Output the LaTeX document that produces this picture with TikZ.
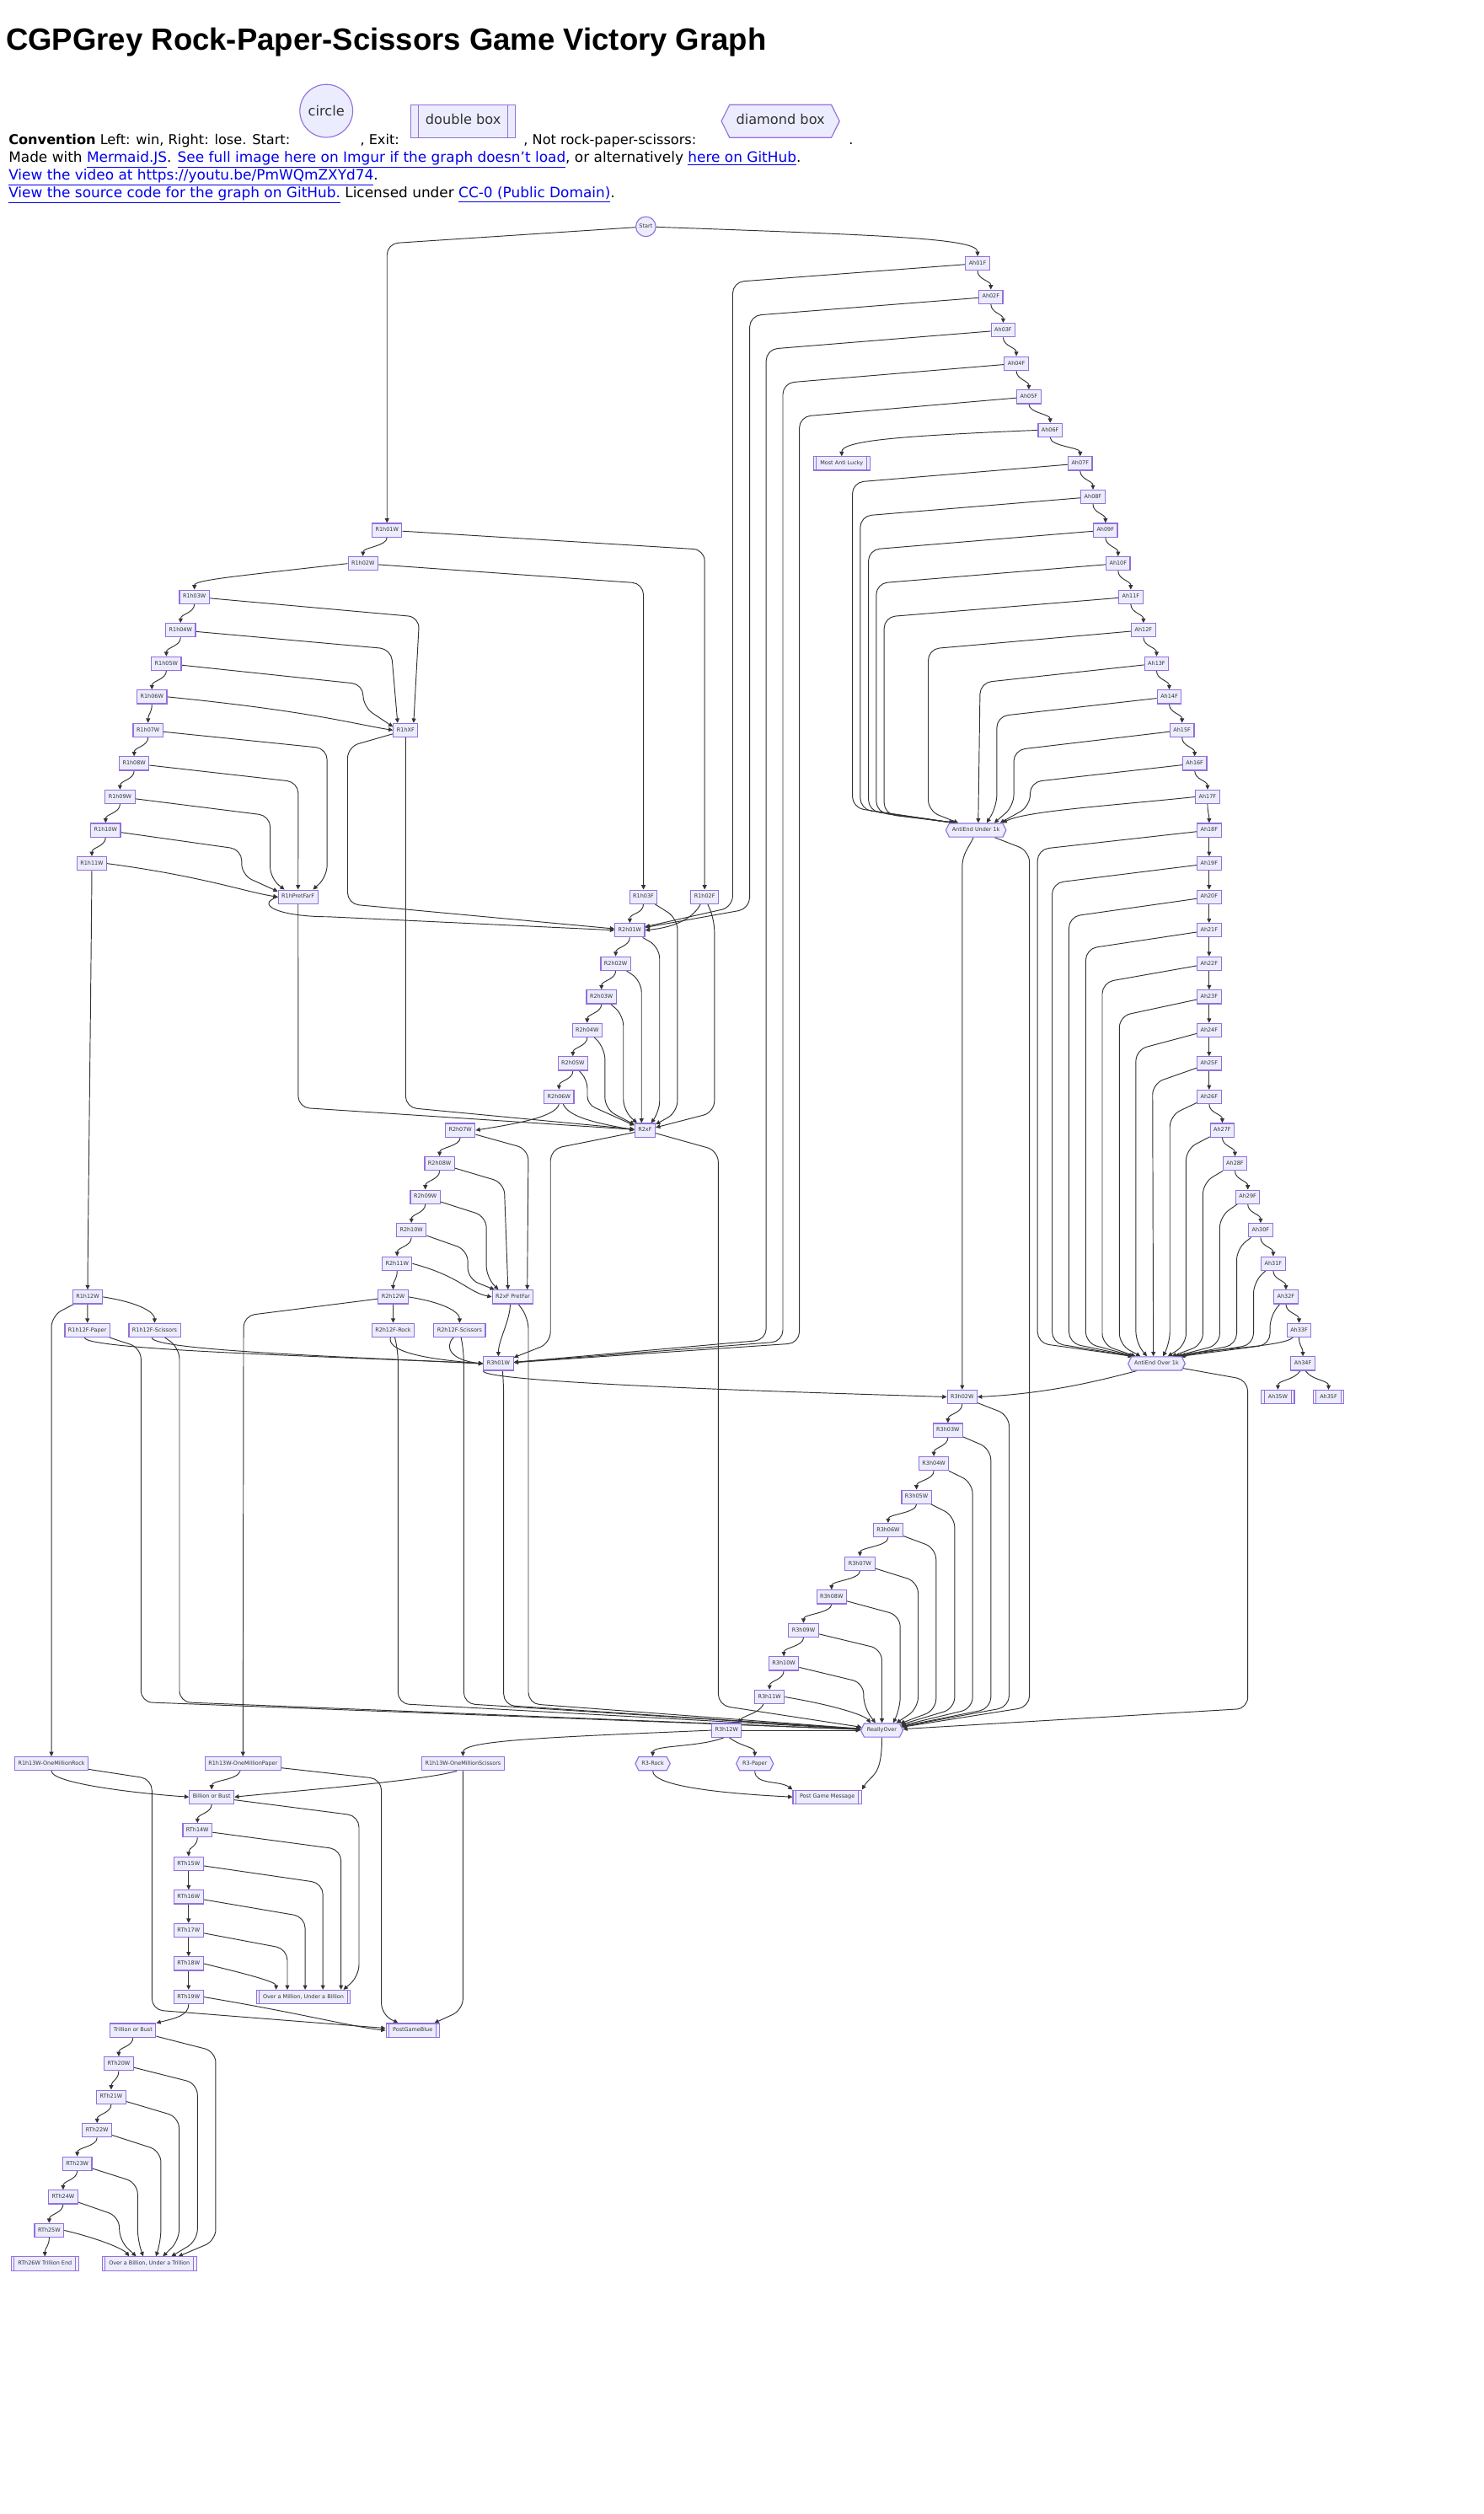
\documentclass[tikz,border=0pt]{standalone}
\usepackage{fontspec}
\setmainfont{DejaVu Sans}
\newfontfamily\titlefont{Liberation Sans}
\usetikzlibrary{arrows.meta,shapes.symbols,calc}
\definecolor{mfill}{HTML}{ECECFF}
\definecolor{mline}{HTML}{9370DB}
\definecolor{ecol}{HTML}{333333}
\definecolor{lnk}{HTML}{0000EE}
\pgfdeclarelayer{bglayer}
\pgfdeclarelayer{edgelayer}
\pgfsetlayers{bglayer,edgelayer,main}
\newcommand\nf{\fontsize{3.4}{4}\selectfont}
\newcommand\pf{\fontsize{8.5}{10}\selectfont}
\newcommand\pfb{\fontsize{8.9}{10}\selectfont}
\newcommand\lk[1]{\textcolor{lnk}{\underline{#1}}}
\newcommand\chn[2]{\draw[arr] (#1.south) .. controls +(0,5.5) and +(0,-5.5) .. (#2.north);}
\tikzset{
 nd/.style={rectangle, draw=mline, fill=mfill, line width=0.6pt, font=\nf, text=ecol, inner xsep=2.1pt, inner ysep=2.575pt, text height=2.6pt, text depth=0.75pt, minimum height=8.5pt},
 dlines/.style={path picture={\draw[mline, line width=0.5pt] ([xshift=#1]path picture bounding box.north west) -- ([xshift=#1]path picture bounding box.south west) ([xshift=-#1]path picture bounding box.north east) -- ([xshift=-#1]path picture bounding box.south east);}},
 dbx/.style={nd, inner xsep=4.2pt, dlines=1.8pt},
 hx/.style={nd, shape=signal, signal to=west and east, signal pointer angle=127, inner xsep=1.8pt},
 arr/.style={draw=ecol, line width=0.5pt, -{Triangle[length=2.8pt,width=2.6pt]}},
 lanearr/.style={arr, rounded corners=7pt},
 pg/.style={anchor=base west, inner sep=0pt, font=\pf, text=black},
 pgb/.style={pg, font=\pfb},
}
\begin{document}
\begin{tikzpicture}[x=1pt,y=-1pt]
\begin{pgfonlayer}{bglayer}
\fill[white] (0,0) rectangle (926,1568.6);
\end{pgfonlayer}
\useasboundingbox (0,0) rectangle (926,1568.6);
% ---------------- header
\node[anchor=base west, inner sep=0pt, font=\titlefont\bfseries\fontsize{19.2}{22}\selectfont] (title) at (3.6,31.5) {CGPGrey Rock-Paper-Scissors Game Victory Graph};
\node[pg] (t1a) at (5.2,90.3) {\textbf{Convention} Left: win, Right: lose. Start:};
\node[pg] (t1b) at (224.6,90.3) {, Exit:};
\node[pg] (t1c) at (326.6,90.3) {, Not rock-paper-scissors:};
\node[pg] (t1d) at (529.5,90.3) {.};
\node[pgb] (t2) at (5.2,101.3) {Made with \lk{Mermaid.JS}. \lk{See full image here on Imgur if the graph doesn't load}, or alternatively \lk{here on GitHub}.};
\node[pgb] (t3) at (5.2,112.3) {\lk{View the video at https://youtu.be/PmWQmZXYd74}.};
\node[pgb] (t4) at (5.2,123.2) {\lk{View the source code for the graph on GitHub.} Licensed under \lk{CC-0 (Public Domain)}.};
\node[nd, circle, font=\pf, minimum size=33pt, inner sep=0pt, text height=6.2pt, text depth=0pt] (lgc) at (203.6,69.2) {circle};
\node[nd, font=\pf, minimum width=65.3pt, minimum height=20.5pt, inner xsep=0pt, inner ysep=0pt, text height=6.2pt, text depth=1.8pt, dlines=4.6pt] (lgd) at (289,75.6) {double box};
\node[hx, font=\pf, minimum height=20.5pt, inner xsep=4.1pt, inner ysep=5.9pt, text height=6.2pt, text depth=1.8pt] (lgh) at (487,75.6) {diamond box};
% ---------------- nodes: anti chain
\node[nd,circle,minimum size=12.4pt,inner sep=0pt] (S) at (403,141.4) {Start};
\node[nd] (A01) at (610,164.4) {Ah01F};
\node[nd] (A02) at (618.3,185.2) {Ah02F};
\node[nd] (A03) at (626,206.0) {Ah03F};
\node[nd] (A04) at (634.2,226.8) {Ah04F};
\node[nd] (A05) at (642,247.6) {Ah05F};
\node[nd] (A06) at (655.3,268.4) {Ah06F};
\node[dbx] (MAL) at (525.2,289.2) {Most Anti Lucky};
\node[nd] (A07) at (674,289.2) {Ah07F};
\node[nd] (A08) at (682,310.0) {Ah08F};
\node[nd] (A09) at (689.8,330.8) {Ah09F};
\node[nd] (A10) at (697.7,351.6) {Ah10F};
\node[nd] (A11) at (705.6,372.4) {Ah11F};
\node[nd] (A12) at (713.5,393.2) {Ah12F};
\node[nd] (A13) at (721.7,414.0) {Ah13F};
\node[nd] (A14) at (729.6,434.8) {Ah14F};
\node[nd] (A15) at (737.6,455.6) {Ah15F};
\node[nd] (A16) at (745.5,476.4) {Ah16F};
\node[nd] (A17) at (753.5,497.2) {Ah17F};
\node[nd] (A18) at (754.5,518.0) {Ah18F};
\node[nd] (A19) at (754.5,538.8) {Ah19F};
\node[nd] (A20) at (754.5,559.6) {Ah20F};
\node[nd] (A21) at (754.5,580.4) {Ah21F};
\node[nd] (A22) at (754.5,601.2) {Ah22F};
\node[nd] (A23) at (754.5,622.0) {Ah23F};
\node[nd] (A24) at (754.5,642.8) {Ah24F};
\node[nd] (A25) at (754.5,663.6) {Ah25F};
\node[nd] (A26) at (754.5,684.4) {Ah26F};
\node[nd] (A27) at (762.7,705.2) {Ah27F};
\node[nd] (A28) at (770.6,726.0) {Ah28F};
\node[nd] (A29) at (778.6,746.8) {Ah29F};
\node[nd] (A30) at (786.6,767.6) {Ah30F};
\node[nd] (A31) at (794.5,788.4) {Ah31F};
\node[nd] (A32) at (802.4,809.2) {Ah32F};
\node[nd] (A33) at (810.6,830.0) {Ah33F};
\node[nd] (A34) at (813,850.8) {Ah34F};
\node[dbx] (A35W) at (797.4,871.6) {Ah35W};
\node[dbx] (A35F) at (829,871.6) {Ah35F};
\node[hx] (AU) at (609,518.0) {AntiEnd Under 1k};
\node[hx] (AO) at (721.7,850.8) {AntiEnd Over 1k};
% ---------------- round 1
\node[nd] (r1w01) at (241.5,330.8) {R1h01W};
\node[nd] (r1w02) at (226.5,351.6) {R1h02W};
\node[nd] (r1w03) at (121.3,372.4) {R1h03W};
\node[nd] (r1w04) at (112.7,393.2) {R1h04W};
\node[nd] (r1w05) at (103.8,414.0) {R1h05W};
\node[nd] (r1w06) at (94.8,434.8) {R1h06W};
\node[nd] (r1w07) at (92.4,455.6) {R1h07W};
\node[nd] (r1w08) at (83.7,476.4) {R1h08W};
\node[nd] (r1w09) at (74.9,497.2) {R1h09W};
\node[nd] (r1w10) at (65.9,518.0) {R1h10W};
\node[nd] (r1w11) at (57.3,538.8) {R1h11W};
\node[nd] (r1xf) at (253.1,455.6) {R1hXF};
\node[nd] (r1pf) at (186,559.6) {R1hPretFarF};
\node[nd] (r1f03) at (401.5,559.6) {R1h03F};
\node[nd] (r1f02) at (439.7,559.6) {R1h02F};
\node[nd] (r1w12) at (54.7,809.2) {R1h12W};
\node[nd] (r1fp) at (54.5,830.0) {R1h12F-Paper};
\node[nd] (r1fs) at (96.5,830.0) {R1h12F-Scissors};
% ---------------- round 2
\node[nd] (r2w01) at (393,580.4) {R2h01W};
\node[nd] (r2w02) at (384.2,601.2) {R2h02W};
\node[nd] (r2w03) at (375.3,622.0) {R2h03W};
\node[nd] (r2w04) at (366.4,642.8) {R2h04W};
\node[nd] (r2w05) at (357.5,663.6) {R2h05W};
\node[nd] (r2w06) at (348.8,684.4) {R2h06W};
\node[nd] (r2xf) at (402.5,705.2) {R2xF};
\node[nd] (r2w07) at (287.2,705.2) {R2h07W};
\node[nd] (r2w08) at (274.3,726.0) {R2h08W};
\node[nd] (r2w09) at (265.4,746.8) {R2h09W};
\node[nd] (r2w10) at (256.7,767.6) {R2h10W};
\node[nd] (r2w11) at (247.8,788.4) {R2h11W};
\node[nd] (r2w12) at (245.3,809.2) {R2h12W};
\node[nd] (r2pf) at (320,809.2) {R2xF PretFar};
\node[nd] (r2fr) at (245.3,830.0) {R2h12F-Rock};
\node[nd] (r2fs) at (286.8,830.0) {R2h12F-Scissors};
% ---------------- round 3
\node[nd] (r3w01) at (311,850.8) {R3h01W};
\node[nd] (r3w02) at (600.4,871.6) {R3h02W};
\node[nd] (r3w03) at (591.5,892.4) {R3h03W};
\node[nd] (r3w04) at (582.7,913.2) {R3h04W};
\node[nd] (r3w05) at (571.9,934.0) {R3h05W};
\node[nd] (r3w06) at (554.2,954.8) {R3h06W};
\node[nd] (r3w07) at (536.6,975.6) {R3h07W};
\node[nd] (r3w08) at (518.9,996.4) {R3h08W};
\node[nd] (r3w09) at (501.4,1017.2) {R3h09W};
\node[nd] (r3w10) at (489.1,1038.0) {R3h10W};
\node[nd] (r3w11) at (480.2,1058.8) {R3h11W};
\node[nd] (r3w12) at (453.4,1079.6) {R3h12W};
\node[hx] (ro) at (550.3,1079.6) {ReallyOver};
\node[hx] (r3r) at (407.3,1100.4) {R3-Rock};
\node[hx] (r3p) at (471,1100.4) {R3-Paper};
\node[dbx] (pgm) at (516.2,1121.2) {Post Game Message};
% ---------------- million / billion / trillion
\node[nd] (omr) at (32.1,1100.4) {R1h13W-OneMillionRock};
\node[nd] (omp) at (151.6,1100.4) {R1h13W-OneMillionPaper};
\node[nd] (oms) at (288.9,1100.4) {R1h13W-OneMillionScissors};
\node[nd] (bob) at (132.1,1121.2) {Billion or Bust};
\node[nd] (t14) at (123.2,1142.0) {RTh14W};
\node[nd] (t15) at (117.7,1162.8) {RTh15W};
\node[nd] (t16) at (117.7,1183.6) {RTh16W};
\node[nd] (t17) at (117.7,1204.4) {RTh17W};
\node[nd] (t18) at (117.7,1225.2) {RTh18W};
\node[nd] (t19) at (117.7,1246.0) {RTh19W};
\node[dbx] (omub) at (189.3,1246.0) {Over a Million, Under a Billion};
\node[dbx] (pgb) at (257.5,1266.8) {PostGameBlue};
\node[nd] (tob) at (83,1266.8) {Trillion or Bust};
\node[nd] (t20) at (74.1,1287.6) {RTh20W};
\node[nd] (t21) at (69.4,1308.4) {RTh21W};
\node[nd] (t22) at (60.6,1329.2) {RTh22W};
\node[nd] (t23) at (48.2,1350.0) {RTh23W};
\node[nd] (t24) at (39.4,1370.8) {RTh24W};
\node[nd] (t25) at (30.7,1391.6) {RTh25W};
\node[dbx] (t26) at (28,1412.4) {RTh26W Trillion End};
\node[dbx] (obut) at (93.2,1412.4) {Over a Billion, Under a Trillion};
% ================= edges
\begin{pgfonlayer}{edgelayer}
% start
\draw[arr] (S) .. controls (560,147) and (610,149) .. (A01.north);
\draw[lanearr] (S) -- (241.5,152) -- (r1w01);
% anti chain
\chn{A01}{A02}\chn{A02}{A03}\chn{A03}{A04}\chn{A04}{A05}\chn{A05}{A06}\chn{A06}{A07}
\chn{A07}{A08}\chn{A08}{A09}\chn{A09}{A10}\chn{A10}{A11}\chn{A11}{A12}\chn{A12}{A13}
\chn{A13}{A14}\chn{A14}{A15}\chn{A15}{A16}\chn{A16}{A17}\chn{A17}{A18}\chn{A18}{A19}
\chn{A19}{A20}\chn{A20}{A21}\chn{A21}{A22}\chn{A22}{A23}\chn{A23}{A24}\chn{A24}{A25}
\chn{A25}{A26}\chn{A26}{A27}\chn{A27}{A28}\chn{A28}{A29}\chn{A29}{A30}\chn{A30}{A31}
\chn{A31}{A32}\chn{A32}{A33}\chn{A33}{A34}
\draw[arr] (A06.west) .. controls (560,272) and (525.2,275) .. (MAL.north);
\draw[arr] (A34.250) .. controls +(-4,6) and +(0,-6) .. (A35W.north);
\draw[arr] (A34.290) .. controls +(4,6) and +(0,-6) .. (A35F.north);
% anti lanes
\draw[lanearr] (A01) -- (457.2,176) -- (457.2,566) -- (r2w01);
\draw[lanearr] (A02) -- (467.8,197) -- (467.8,567) -- (r2w01);
\draw[lanearr] (A03) -- (478.1,218) -- (478.1,836) -- (r3w01);
\draw[lanearr] (A04) -- (488.5,239) -- (488.5,837) -- (r3w01);
\draw[lanearr] (A05) -- (498.8,260) -- (498.8,838) -- (r3w01);
\draw[lanearr] (A07) -- (531.9,301) -- (531.9,504) -- ($(AU.north)+(-14,0)$);
\draw[lanearr] (A08) -- (536.8,322) -- (536.8,505) -- ($(AU.north)+(-13.5,0)$);
\draw[lanearr] (A09) -- (541.9,343) -- (541.9,506) -- ($(AU.north)+(-13,0)$);
\draw[lanearr] (A10) -- (546.8,364) -- (546.8,507) -- ($(AU.north)+(-12.5,0)$);
\draw[lanearr] (A11) -- (551.7,385) -- (551.7,508) -- ($(AU.north)+(-12,0)$);
\draw[lanearr] (A12) -- (579.2,405) -- (579.2,506) -- ($(AU.north)+(-11,0)$);
\draw[lanearr] (A13) -- (611.6,426) -- ($(AU.north)+(1.4,0)$);
\draw[lanearr] (A14) -- (622,447) -- (622,503) -- ($(AU.north)+(6.7,0)$);
\draw[lanearr] (A15) -- (632.6,468) -- (632.6,503) -- ($(AU.north)+(11.4,0)$);
\draw[lanearr] (A16) -- (642.8,488) -- (642.8,503) -- ($(AU.north)+(15,0)$);
\draw[arr] (A17.west) .. controls (690,503) and (640,506) .. ($(AU.north)+(16.5,0)$);
\draw[lanearr] (A18) -- (647.4,530) -- (647.4,838) -- ($(AO.north)+(-15,0)$);
\draw[lanearr] (A19) -- (656.5,551) -- (656.5,838) -- ($(AO.north)+(-15,0)$);
\draw[lanearr] (A20) -- (667,572) -- (667,838) -- ($(AO.north)+(-14.5,0)$);
\draw[lanearr] (A21) -- (677.5,592) -- (677.5,838) -- ($(AO.north)+(-14,0)$);
\draw[lanearr] (A22) -- (687.8,613) -- (687.8,839) -- ($(AO.north)+(-13,0)$);
\draw[lanearr] (A23) -- (698.5,634) -- (698.5,839) -- ($(AO.north)+(-10,0)$);
\draw[lanearr] (A24) -- (708.8,655) -- (708.8,838) -- ($(AO.north)+(-6,0)$);
\draw[lanearr] (A25) -- (719.2,676) -- ($(AO.north)+(-2,0)$);
\draw[lanearr] (A26) -- (730,696) -- (730,838) -- ($(AO.north)+(4,0)$);
\draw[lanearr] (A27) -- (740.1,717) -- (740.1,839) -- ($(AO.north)+(7,0)$);
\draw[lanearr] (A28) -- (750.6,738) -- (750.6,839) -- ($(AO.north)+(9.5,0)$);
\draw[lanearr] (A29) -- (761.1,759) -- (761.1,839) -- ($(AO.north)+(11.5,0)$);
\draw[lanearr] (A30) -- (771.7,779) -- (771.7,839) -- ($(AO.north)+(13,0)$);
\draw[lanearr] (A31) -- (782.2,800) -- (782.2,839) -- ($(AO.north)+(14.5,0)$);
\draw[lanearr] (A32) -- (792.5,821) -- (792.5,839) -- ($(AO.north)+(15,0)$);
\draw[arr] (A33.230) .. controls +(-6,6) and +(10,-4) .. ($(AO.north)+(15.5,0)$);
% anti ends
\draw[arr] (AU.250) .. controls +(-3,7) and +(0,-10) .. (600.4,542) -- (r3w02.north);
\draw[lanearr] (AU) -- (642.4,531) -- (642.4,1065) -- (ro);
\draw[arr] (AO.200) .. controls +(-30,8) and +(40,-2) .. (r3w02.east);
\draw[lanearr] (AO) -- (778.6,861) -- (778.6,1066) -- (ro);
% round 1
\chn{r1w01}{r1w02}
\draw[arr] (r1w02.west) .. controls +(-70,8) and +(0,-6) .. (r1w03.north);
\chn{r1w03}{r1w04}\chn{r1w04}{r1w05}\chn{r1w05}{r1w06}\chn{r1w06}{r1w07}
\chn{r1w07}{r1w08}\chn{r1w08}{r1w09}\chn{r1w09}{r1w10}\chn{r1w10}{r1w11}
\draw[lanearr] (r1w01) -- (439.7,343) -- (r1f02.north);
\draw[lanearr] (r1w02) -- (401.5,364) -- (r1f03.north);
\draw[lanearr] (r1w03) -- (261.7,385) -- ($(r1xf.north)+(5,0)$);
\draw[lanearr] (r1w04) -- (244.1,405) -- ($(r1xf.north)+(-5,0)$);
\draw[lanearr] (r1w05) -- (226.6,427) -- (226.6,441) -- (r1xf.165);
\draw[arr] (r1w06.east) .. controls +(90,9) and +(-25,-4) .. (r1xf.west);
\draw[lanearr] (r1w07) -- (204.1,467) -- (204.1,547) -- ($(r1pf.north)+(9.3,0)$);
\draw[lanearr] (r1w08) -- (186.1,488) -- (r1pf.north);
\draw[lanearr] (r1w09) -- (168.6,509) -- (168.6,548) -- ($(r1pf.north)+(-8.5,0)$);
\draw[lanearr] (r1w10) -- (150.8,530) -- (150.8,546) -- (r1pf.165);
\draw[arr] (r1w11.east) .. controls +(60,8) and +(-20,-3) .. (r1pf.west);
\draw[arr] (r1w11.south) .. controls +(0,20) and +(0,-20) .. (r1w12.north);
\draw[lanearr] (r1xf) -- (216.9,466) -- (216.9,564) -- (r2w01);
\draw[lanearr] (r1xf) -- (253.1,691) -- (r2xf);
\draw[arr] (r1pf.west) .. controls +(-15,5) and +(-30,0) .. (205,572) -- (r2w01.west);
\draw[lanearr] (r1pf) -- (186.1,691) -- (r2xf);
\draw[arr] (r1f03.south) .. controls +(0,6) and +(0,-6) .. (r2w01.north);
\draw[lanearr] (r1f03) -- (422.7,573) -- (422.7,694) -- (r2xf);
\draw[arr] (r1f02.240) .. controls +(-4,8) and +(20,-2) .. (r2w01.east);
\draw[lanearr] (r1f02) -- (445.8,574) -- (445.8,694) -- (r2xf);
\draw[arr] (r1w12) -- (r1fp);
\draw[arr] (r1w12.east) .. controls +(25,4) and +(0,-6) .. (r1fs.north);
\draw[lanearr] (r1w12) -- (32.1,821) -- (omr);
% round 2
\chn{r2w01}{r2w02}\chn{r2w02}{r2w03}\chn{r2w03}{r2w04}\chn{r2w04}{r2w05}\chn{r2w05}{r2w06}
\draw[arr] (r2w06.south) .. controls +(-2,8) and +(25,-4) .. (r2w07.east);
\chn{r2w07}{r2w08}\chn{r2w08}{r2w09}\chn{r2w09}{r2w10}\chn{r2w10}{r2w11}\chn{r2w11}{r2w12}
\draw[lanearr] (r2w01) -- (411.6,591) -- (411.6,694) -- (r2xf);
\draw[lanearr] (r2w02) -- (400.3,612) -- ($(r2xf.north)+(-2.2,0)$);
\draw[lanearr] (r2w03) -- (389,633) -- (389,693) -- (r2xf);
\draw[lanearr] (r2w04) -- (377.5,654) -- (377.5,692) -- (r2xf);
\draw[lanearr,rounded corners=5pt] (r2w05) -- (366.5,674) -- (366.5,689) -- (r2xf);
\draw[arr] (r2w06.300) .. controls +(4,9) and +(-20,-4) .. (r2xf.west);
\draw[lanearr] (r2w07) -- (329.7,717) -- ($(r2pf.north)+(9,0)$);
\draw[lanearr] (r2w08) -- (314.6,738) -- ($(r2pf.north)+(-3,0)$);
\draw[lanearr] (r2w09) -- (303.5,759) -- (303.5,797) -- ($(r2pf.north)+(-9,0)$);
\draw[lanearr] (r2w10) -- (291.9,780) -- (291.9,798) -- (r2pf);
\draw[arr] (r2w11.east) .. controls +(30,8) and +(-15,-3) .. (r2pf.west);
\draw[arr] (r2w12) -- (r2fr);
\draw[arr] (r2w12.east) .. controls +(25,4) and +(0,-6) .. (r2fs.north);
\draw[lanearr] (r2w12) -- (152,821) -- (omp);
% into round 3
\draw[arr] (r1fp.250) .. controls +(-1,8) and +(-80,-4) .. (r3w01.west);
\draw[arr] (r1fs.250) .. controls +(-1,8) and +(-80,-4) .. (r3w01.west);
\draw[arr] (r2fr.250) .. controls +(-2,8) and +(-40,-3) .. (r3w01.west);
\draw[arr] (r2fs.230) .. controls +(-6,6) and +(-20,-2) .. (r3w01.west);
\draw[arr] (r2pf.250) .. controls +(0,10) and +(0,-10) .. (r3w01.north);
\draw[lanearr] (r2xf) -- (343.5,717) -- (343.5,838) -- (r3w01);
% to ReallyOver from the left
\draw[lanearr] (r1fp) -- (88,841) -- (88,1062) -- (ro);
\draw[lanearr] (r1fs) -- (112,841) -- (112,1062) -- (ro);
\draw[lanearr] (r2fr) -- (248.4,843) -- (248.4,1063) -- (ro);
\draw[lanearr] (r2fs) -- (289.4,843) -- (289.4,1063) -- (ro);
\draw[lanearr] (r2pf) -- (329.7,822) -- (329.7,1063) -- (ro);
\draw[lanearr] (r2xf) -- (448.2,718) -- (448.2,1064) -- (ro);
% round 3
\draw[arr] (r3w01.south west) .. controls +(0,8) and +(-60,-2) .. (r3w02.west);
\draw[lanearr] (r3w01.300) -- (314.3,866) -- (314.3,1064) -- (ro);
\chn{r3w02}{r3w03}\chn{r3w03}{r3w04}\chn{r3w04}{r3w05}\chn{r3w05}{r3w06}\chn{r3w06}{r3w07}
\chn{r3w07}{r3w08}\chn{r3w08}{r3w09}\chn{r3w09}{r3w10}\chn{r3w10}{r3w11}
\draw[arr] (r3w11.230) .. controls +(-3,6) and +(4,-5) .. ($(r3w12.north)+(7,0)$);
\draw[lanearr] (r3w02) -- (629.7,883) -- (629.7,1065) -- (ro);
\draw[lanearr] (r3w03) -- (618.3,904) -- (618.3,1066) -- (ro);
\draw[lanearr] (r3w04) -- (606.9,925) -- (606.9,1066) -- (ro);
\draw[lanearr] (r3w05) -- (595.7,946) -- (595.7,1066) -- (ro);
\draw[lanearr] (r3w06) -- (584.1,966) -- (584.1,1067) -- (ro);
\draw[lanearr] (r3w07) -- (572.9,987) -- (572.9,1066) -- ($(ro.north)+(9,0)$);
\draw[lanearr] (r3w08) -- (561.7,1008) -- (561.7,1066) -- ($(ro.north)+(7,0)$);
\draw[lanearr] (r3w09) -- (550.3,1029) -- (ro.north);
\draw[lanearr] (r3w10) -- (538.9,1050) -- (538.9,1065) -- ($(ro.north)+(-4,0)$);
\draw[arr] (r3w11.east) .. controls +(30,5) and +(-4,-5) .. ($(ro.north)+(-7,0)$);
\draw[arr] (r3w12) -- (ro);
\draw[arr] (r3w12.250) .. controls +(-15,6) and +(0,-7) .. (r3r.north);
\draw[arr] (r3w12.290) .. controls +(8,6) and +(0,-6) .. (r3p.north);
\draw[arr] (r3w12.west) .. controls (340,1084) and (288.9,1086) .. (oms.north);
\draw[arr] (r3r.south) .. controls +(0,10) and +(-40,-2) .. (pgm.west);
\draw[arr] (r3p.south) .. controls +(0,9) and +(-8,-6) .. (pgm.north west);
\draw[arr] (ro.south) .. controls +(0,25) and +(6,-10) .. (pgm.north east);
% million level
\draw[arr] (omr.south) .. controls +(0,8) and +(-30,-2) .. (bob.west);
\draw[lanearr] (omr) -- (94.8,1110) -- (94.8,1254) -- (pgb);
\draw[arr] (omp.250) .. controls +(-2,6) and +(0,-6) .. (bob.north);
\draw[lanearr] (omp) -- (238,1110) -- (238,1257) -- (pgb);
\draw[arr] (oms.230) .. controls +(-20,6) and +(40,-4) .. (bob.east);
\draw[lanearr] (oms) -- (288.9,1254) -- ($(pgb.north)+(13.5,0)$);
\chn{bob}{t14}\chn{t14}{t15}\chn{t15}{t16}\chn{t16}{t17}\chn{t17}{t18}\chn{t18}{t19}
\draw[lanearr] (bob) -- (224,1133) -- (224,1233) -- ($(omub.north)+(25,0)$);
\draw[lanearr] (t14) -- (212.8,1154) -- ($(omub.north)+(23.5,0)$);
\draw[lanearr] (t15) -- (201.5,1175) -- ($(omub.north)+(12.2,0)$);
\draw[lanearr] (t16) -- (190.4,1196) -- ($(omub.north)+(1.1,0)$);
\draw[lanearr] (t17) -- (179.3,1216) -- ($(omub.north)+(-10,0)$);
\draw[arr] (t18.east) .. controls +(25,6) and +(0,-5) .. ($(omub.north)+(-17,0)$);
\draw[arr] (t19.south) .. controls +(0,7) and +(12,-3) .. (tob.north east);
\draw[arr] (t19.east) .. controls +(60,10) and +(-20,-2) .. (pgb.west);
% trillion level
\chn{tob}{t20}\chn{t20}{t21}\chn{t21}{t22}\chn{t22}{t23}\chn{t23}{t24}\chn{t24}{t25}\chn{t25}{t26}
\draw[lanearr] (tob) -- (134.6,1280) -- (134.6,1398) -- ($(obut.north)+(18.1,0)$);
\draw[lanearr] (t20) -- (123.2,1300) -- (123.2,1398) -- ($(obut.north)+(13.7,0)$);
\draw[lanearr] (t21) -- (111.8,1321) -- (111.8,1398) -- ($(obut.north)+(8.4,0)$);
\draw[lanearr] (t22) -- (100.4,1342) -- (100.4,1398) -- ($(obut.north)+(4.1,0)$);
\draw[lanearr] (t23) -- (85.9,1362) -- (85.9,1398) -- ($(obut.north)+(-3.8,0)$);
\draw[lanearr] (t24) -- (74.5,1383) -- (74.5,1398) -- ($(obut.north)+(-8.2,0)$);
\draw[arr] (t25.east) .. controls +(25,6) and +(-3,-4) .. ($(obut.north)+(-12.6,0)$);
\end{pgfonlayer}
\end{tikzpicture}
\end{document}
